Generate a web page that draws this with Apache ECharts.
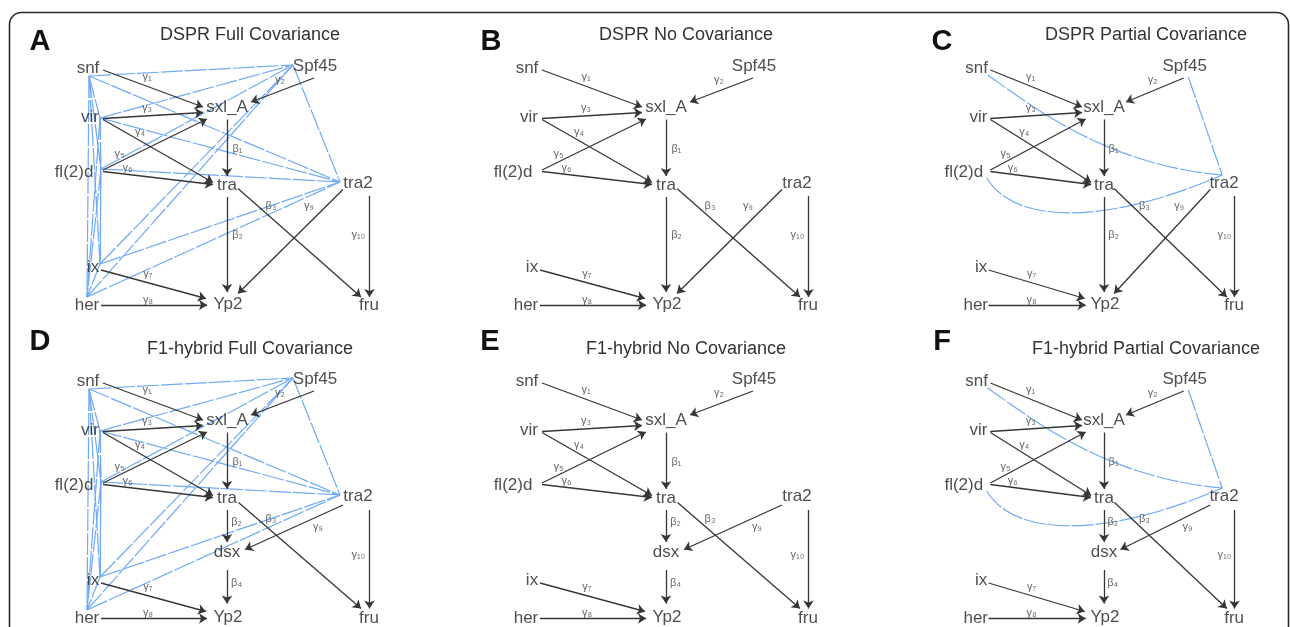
<!DOCTYPE html>
<html><head><meta charset="utf-8">
<script src="https://cdn.jsdelivr.net/npm/echarts@6/dist/echarts.min.js"></script>
<style>html,body{margin:0;padding:0;background:#fff}#c{width:1290px;height:627px}</style>
</head><body><div id="c"></div>
<script>
// ---------------- DATA ----------------
const panelLetters = ['A','B','C','D','E','F'];
const panelTitles = ['DSPR Full Covariance','DSPR No Covariance','DSPR Partial Covariance',
                     'F1-hybrid Full Covariance','F1-hybrid No Covariance','F1-hybrid Partial Covariance'];
const panelModel = ['full','none','partial','full','none','partial'];
const panelDesign = ['DSPR','DSPR','DSPR','F1','F1','F1'];
const nodesDSPR = ['snf','Spf45','sxl_A','vir','fl(2)d','tra','tra2','ix','her','Yp2','fru'];
const nodesF1 = ['snf','Spf45','sxl_A','vir','fl(2)d','tra','tra2','dsx','ix','her','Yp2','fru'];
// directed paths [from, to, coefficient]
const pathsDSPR = [
  ['snf','sxl_A','γ₁'],['Spf45','sxl_A','γ₂'],['vir','sxl_A','γ₃'],['vir','tra','γ₄'],
  ['fl(2)d','sxl_A','γ₅'],['fl(2)d','tra','γ₆'],['sxl_A','tra','β₁'],['tra','Yp2','β₂'],
  ['tra','fru','β₃'],['ix','Yp2','γ₇'],['her','Yp2','γ₈'],['tra2','Yp2','γ₉'],['tra2','fru','γ₁₀']
];
const pathsF1 = [
  ['snf','sxl_A','γ₁'],['Spf45','sxl_A','γ₂'],['vir','sxl_A','γ₃'],['vir','tra','γ₄'],
  ['fl(2)d','sxl_A','γ₅'],['fl(2)d','tra','γ₆'],['sxl_A','tra','β₁'],['tra','dsx','β₂'],
  ['tra','fru','β₃'],['dsx','Yp2','β₄'],['ix','Yp2','γ₇'],['her','Yp2','γ₈'],
  ['tra2','dsx','γ₉'],['tra2','fru','γ₁₀']
];
// covariances among exogenous variables
const fullCov = [
  ['snf','vir'],['snf','fl(2)d'],['snf','ix'],['snf','her'],['snf','Spf45'],['snf','tra2'],
  ['vir','fl(2)d'],['vir','ix'],['vir','her'],['vir','Spf45'],['vir','tra2'],
  ['fl(2)d','ix'],['fl(2)d','her'],['fl(2)d','Spf45'],['fl(2)d','tra2'],
  ['ix','her'],['ix','Spf45'],['ix','tra2'],
  ['her','Spf45'],['her','tra2'],
  ['Spf45','tra2']
];
const partialCov = [['snf','tra2'],['fl(2)d','tra2'],['Spf45','tra2']];

// ---------------- LAYOUT (positions, sizes) ----------------
const LAYOUT = {
  panelOrigin: [[0,0],[439,0],[896,0],[0,313],[439,313],[896,313]],
  panelSize: [430,313],
  letterPos: [[40,42],[491,42],[942,42],[40,342],[490,342],[942,342]],
  titlePos: [[250,35],[686,35],[1146,35],[250,349],[686,349],[1146,349]],
  nodePos: {
    'snf':[88,68],'Spf45':[315,66],'sxl_A':[227,107],'vir':[90,117],'fl(2)d':[74,172],
    'tra':[227,185],'tra2':[358,183],'ix':[93,267],'her':[87,305],'Yp2':[228,304],
    'fru':[369,305],'dsx':[227,239]
  },
  pathEnds: {
    DSPR: {
      'snf>sxl_A':[[103,70],[203,107]], 'Spf45>sxl_A':[[314,78],[251,102]],
      'vir>sxl_A':[[103,118.5],[203,112.5]], 'vir>tra':[[103,119.5],[213,182.5]],
      'fl(2)d>sxl_A':[[103,170],[207,119]], 'fl(2)d>tra':[[103,171.5],[213,184.5]],
      'sxl_A>tra':[[227,119.5],[227,176]], 'tra>Yp2':[[227,197],[227,292]],
      'tra>fru':[[238,188.5],[361,297]], 'ix>Yp2':[[101,270],[206,298.5]],
      'her>Yp2':[[101,305],[207,305]], 'tra2>Yp2':[[343,189.5],[238,293.5]],
      'tra2>fru':[[369.5,196],[369.5,297]]
    },
    F1: {
      'snf>sxl_A':[[103,70],[203,107]], 'Spf45>sxl_A':[[314,78],[251,102]],
      'vir>sxl_A':[[103,118.5],[203,112.5]], 'vir>tra':[[103,119.5],[213,182.5]],
      'fl(2)d>sxl_A':[[103,170],[207,119]], 'fl(2)d>tra':[[103,171.5],[213,184.5]],
      'sxl_A>tra':[[227,119.5],[227,176]], 'tra>dsx':[[227,197],[227,229]],
      'dsx>Yp2':[[227,257],[227,290.5]], 'tra>fru':[[238.5,189.5],[361,295.5]],
      'ix>Yp2':[[101,270],[206,298.5]], 'her>Yp2':[[101,305.5],[207,305.5]],
      'tra2>dsx':[[343,192],[245,236.5]], 'tra2>fru':[[369.5,197],[369.5,295.5]]
    }
  },
  coefPos: {
    DSPR: {'γ₁':[147,77],'γ₂':[280,80],'γ₃':[147,108],'γ₄':[140,131.5],'γ₅':[119.5,154],
           'γ₆':[127.5,167.5],'β₁':[237.5,149],'β₃':[271,205.5],'γ₉':[309,206],'β₂':[237.5,234.5],
           'γ₁₀':[358.5,234.5],'γ₇':[148,273.5],'γ₈':[148,299.5]},
    F1:   {'γ₁':[147,77],'γ₂':[280,80],'γ₃':[147,108],'γ₄':[140,131.5],'γ₅':[119.5,154],
           'γ₆':[127.5,167.5],'β₁':[237.5,149],'β₂':[236.5,209],'β₃':[271,206],'γ₉':[318,214],
           'γ₁₀':[358.5,241.5],'β₄':[236.5,270],'γ₇':[148,273.5],'γ₈':[148,299.5]}
  },
  covAnchor: {
    full: {'snf':[89,76],'vir':[100,118],'fl(2)d':[101,169],'ix':[100,264],'her':[87,297],
           'Spf45':[293,65],'tra2':[340,182]},
    partial: {'snf':[100,75],'fl(2)d':[99,178],'Spf45':[319,77],'tra2':[356,175]}
  },
  // cubic control points for the drawn covariance curves (partial model)
  covCtrl: {'snf~tra2':[[140,100],[225,165]], 'fl(2)d~tra2':[[130,225],[230,225]]}
};

const FONT = '"Liberation Sans", Arial, Helvetica, sans-serif';
const COEF_FONT = '"Liberation Sans", "DejaVu Sans", sans-serif';
const ARROW_COLOR = '#363636';
const COV_COLOR = '#6fa9f7';
const COV_DASH = [22,2];

const chart = echarts.init(document.getElementById('c'), null, {renderer:'canvas'});
const grids = [], xAxes = [], yAxes = [], series = [], graphics = [];

graphics.push({type:'rect', shape:{x:9.5, y:12.5, width:1279, height:720, r:12},
  style:{fill:'none', stroke:'#2a2a2a', lineWidth:1.6}, silent:true, z:0});

for (let p = 0; p < 6; p++) {
  const [ox, oy] = LAYOUT.panelOrigin[p];
  grids.push({left:ox, top:oy, width:LAYOUT.panelSize[0], height:LAYOUT.panelSize[1], show:false});
  xAxes.push({type:'value', gridIndex:p, min:0, max:LAYOUT.panelSize[0], show:false});
  yAxes.push({type:'value', gridIndex:p, min:0, max:LAYOUT.panelSize[1], inverse:true, show:false});

  const design = panelDesign[p];
  const nodes = design === 'DSPR' ? nodesDSPR : nodesF1;
  const paths = design === 'DSPR' ? pathsDSPR : pathsF1;
  const ends = LAYOUT.pathEnds[design];
  const cpos = LAYOUT.coefPos[design];
  const model = panelModel[p];

  if (model === 'full') {
    const anc = LAYOUT.covAnchor.full;
    series.push({
      type:'lines', coordinateSystem:'cartesian2d', xAxisIndex:p, yAxisIndex:p, z:2,
      symbol:'none', silent:true,
      lineStyle:{color:COV_COLOR, width:1.2, type:COV_DASH, opacity:1},
      data: fullCov.map(([a,b]) => ({coords:[anc[a], anc[b]]}))
    });
  } else if (model === 'partial') {
    const anc = LAYOUT.covAnchor.partial;
    series.push({
      type:'custom', coordinateSystem:'cartesian2d', xAxisIndex:p, yAxisIndex:p, z:2,
      silent:true, clip:false,
      data: partialCov.map(([a,b]) => ({name:a+'~'+b, value:anc[a].concat(anc[b])})),
      renderItem: function (params, api) {
        const key = partialCov[params.dataIndex].join('~');
        const v = [api.value(0), api.value(1), api.value(2), api.value(3)];
        const p1 = api.coord([v[0], v[1]]);
        const p2 = api.coord([v[2], v[3]]);
        const style = {stroke:COV_COLOR, lineWidth:1.2, lineDash:COV_DASH, fill:null};
        const ctrl = LAYOUT.covCtrl[key];
        if (ctrl) {
          const c1 = api.coord(ctrl[0]), c2 = api.coord(ctrl[1]);
          return {type:'bezierCurve', shape:{x1:p1[0], y1:p1[1], x2:p2[0], y2:p2[1],
            cpx1:c1[0], cpy1:c1[1], cpx2:c2[0], cpy2:c2[1]}, style:style};
        }
        return {type:'line', shape:{x1:p1[0], y1:p1[1], x2:p2[0], y2:p2[1]}, style:style};
      }
    });
  }

  series.push({
    type:'lines', coordinateSystem:'cartesian2d', xAxisIndex:p, yAxisIndex:p, z:3,
    symbol:['none','arrow'], symbolSize:8, silent:true,
    lineStyle:{color:ARROW_COLOR, width:1.3, opacity:1, curveness:0},
    data: paths.map(([a,b]) => ({coords: ends[a+'>'+b]}))
  });

  series.push({
    type:'scatter', xAxisIndex:p, yAxisIndex:p, z:4, symbolSize:1, silent:true,
    itemStyle:{color:'rgba(0,0,0,0)'},
    label:{show:true, position:'inside', formatter:'{b}', fontFamily:FONT, fontSize:17, color:'#222'},
    data: nodes.map(n => ({name:n, value:LAYOUT.nodePos[n]}))
  });

  series.push({
    type:'scatter', xAxisIndex:p, yAxisIndex:p, z:4, symbolSize:1, silent:true,
    itemStyle:{color:'rgba(0,0,0,0)'},
    label:{show:true, position:'inside', formatter:'{b}', fontFamily:COEF_FONT, fontSize:11, color:'#404040'},
    data: paths.map(e => ({name:e[2], value:cpos[e[2]]}))
  });

  graphics.push({type:'text', silent:true, z:5,
    style:{text:panelLetters[p], x:LAYOUT.letterPos[p][0], y:LAYOUT.letterPos[p][1],
      textAlign:'center', textVerticalAlign:'middle', fontFamily:FONT, fontSize:29, fontWeight:'bold', fill:'#111'}});
  graphics.push({type:'text', silent:true, z:5,
    style:{text:panelTitles[p], x:LAYOUT.titlePos[p][0], y:LAYOUT.titlePos[p][1],
      textAlign:'center', textVerticalAlign:'middle', fontFamily:FONT, fontSize:18, fill:'#333'}});
}

chart.setOption({
  animation:false,
  backgroundColor:'#fff',
  grid:grids, xAxis:xAxes, yAxis:yAxes, series:series, graphic:graphics
});
</script></body></html>
